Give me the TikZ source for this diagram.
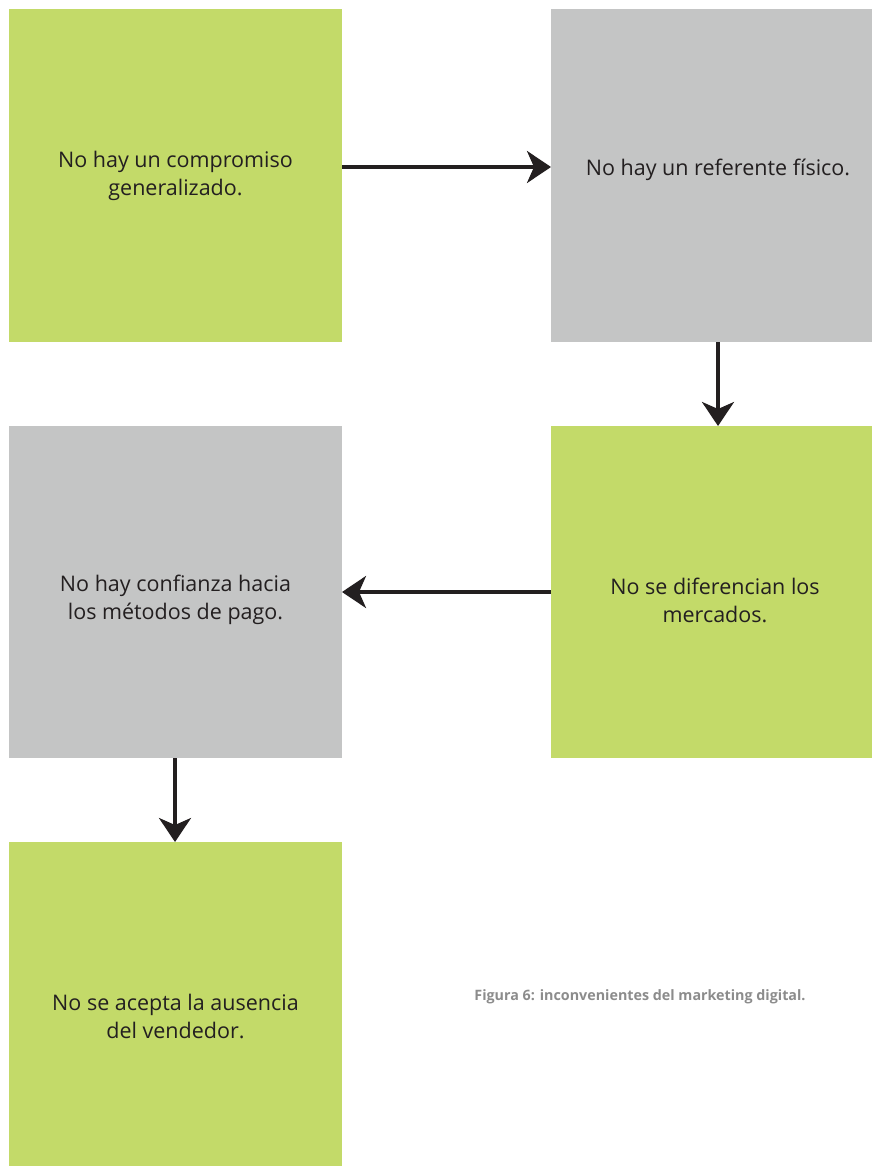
\documentclass[tikz,border=0pt]{standalone}
\usepackage{fontspec}
\setmainfont{Open Sans}
\usetikzlibrary{arrows.meta}
\definecolor{boxgreen}{HTML}{C3DA69}
\definecolor{boxgray}{HTML}{C4C5C5}
\definecolor{ink}{HTML}{231F20}
\definecolor{capgray}{HTML}{8C8C8C}
\begin{document}
\begin{tikzpicture}[x=1pt,y=-1pt,
  label/.style={text=ink, font=\fontsize{21.5}{28}\selectfont, align=center},
  flow/.style={draw=ink, line width=3.6pt, -{Stealth[inset=7pt,length=24pt,width=32pt]}}]
  \useasboundingbox (0,0) rectangle (872,1166);
  \fill[white] (0,0) rectangle (872,1166);
  % coloured panels
  \fill[boxgreen] (9,9) rectangle (342,342);
  \fill[boxgray] (551,9) rectangle (872,342);
  \fill[boxgreen] (551,426) rectangle (872,758);
  \fill[boxgray] (9,426) rectangle (342,758);
  \fill[boxgreen] (9,842) rectangle (342,1166);
  % panel texts
  \node[label] (t1) at (175.5,176) {No hay un compromiso\\generalizado.};
  \node[label] (t2) at (718,170) {No hay un referente físico.};
  \node[label] (t3) at (715,600) {No se diferencian los\\mercados.};
  \node[label] (t4) at (175.5,600) {No hay confianza hacia\\los métodos de pago.};
  \node[label] (t5) at (175.5,1016) {No se acepta la ausencia\\del vendedor.};
  % connector endpoints on panel edges
  \coordinate (a1s) at (342,167);
  \coordinate (a1e) at (551,167);
  \coordinate (a2s) at (718,342);
  \coordinate (a2e) at (718,426);
  \coordinate (a3s) at (551,592);
  \coordinate (a3e) at (342,592);
  \coordinate (a4s) at (175,758);
  \coordinate (a4e) at (175,842);
  \draw[flow] (a1s) -- (a1e);
  \draw[flow] (a2s) -- (a2e);
  \draw[flow] (a3s) -- (a3e);
  \draw[flow] (a4s) -- (a4e);
  \node[text=capgray, font=\bfseries\fontsize{14.3}{17}\selectfont] (cap) at (640,997) {Figura 6: inconvenientes del marketing digital.};
\end{tikzpicture}
\end{document}
